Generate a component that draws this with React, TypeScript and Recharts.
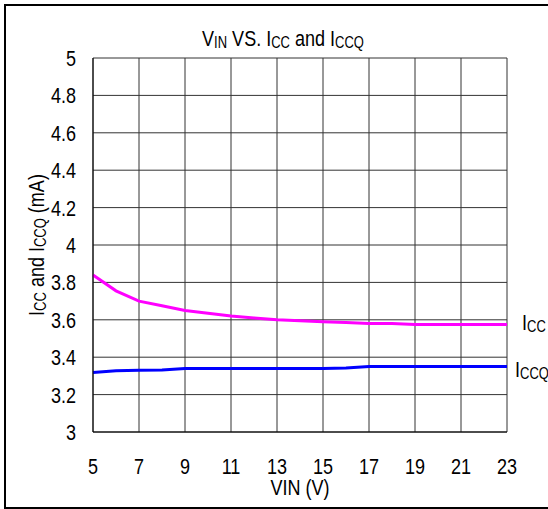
import { LineChart, Line, XAxis, YAxis, CartesianGrid, Label, LabelList, Customized } from 'recharts'

const vin = [5, 6, 7, 8, 9, 10, 11, 12, 13, 14, 15, 16, 17, 18, 19, 20, 21, 22, 23]
const icc = [3.84, 3.755, 3.70, 3.675, 3.65, 3.635, 3.62, 3.61, 3.60, 3.595, 3.59, 3.585, 3.58, 3.58, 3.575, 3.575, 3.575, 3.575, 3.575]
const iccq = [3.318, 3.328, 3.33, 3.332, 3.34, 3.34, 3.34, 3.34, 3.34, 3.34, 3.34, 3.342, 3.35, 3.35, 3.35, 3.35, 3.35, 3.35, 3.35]
const xTicks = [5, 7, 9, 11, 13, 15, 17, 19, 21, 23]
const yTicks = [3, 3.2, 3.4, 3.6, 3.8, 4, 4.2, 4.4, 4.6, 4.8, 5]

const data = vin.map((v, i) => ({ vin: v, icc: icc[i], iccq: iccq[i] }))

// no Arial Narrow here, so squeeze Liberation Sans horizontally
const font = '"Liberation Sans", Arial, sans-serif'
const fs = 22
const squeeze = 0.82

const Narrow = ({ x, y, anchor = 'start', rotate = 0, children }: any) => (
    <g transform={`translate(${x},${y}) rotate(${rotate}) scale(${squeeze},1)`}>
        <text x={0} y={0} textAnchor={anchor} fontFamily={font} fontSize={fs} fill="#000">{children}</text>
    </g>
)

const Sub = ({ children }: { children: string }) => (
    <tspan fontSize="0.72em" dy={2}>{children}</tspan>
)

const XTick = (props: any) => (
    <Narrow x={props.x} y={props.y + 42} anchor="middle">{props.payload.value}</Narrow>
)

const YTick = (props: any) => (
    <Narrow x={props.x - 17} y={props.y + 8} anchor="end">{String(Math.round(props.payload.value * 10) / 10)}</Narrow>
)

const endLabel = (name: string, sub: string, dx: number, dy: number) => (props: any) => {
    const { x, y, index } = props
    if (index !== vin.length - 1) return null
    return (
        <Narrow x={x + dx} y={y + dy}>
            {name}<Sub>{sub}</Sub>
        </Narrow>
    )
}

const Title = () => (
    <Narrow x={283} y={46} anchor="middle">
        V<Sub>IN</Sub><tspan dy={-2}> VS. I</tspan><Sub>CC</Sub><tspan dy={-2}> and I</tspan><Sub>CCQ</Sub>
    </Narrow>
)

const App = () => {
    return (
        <div style={{ position: 'absolute', left: 0, top: 0, width: 548, height: 509, background: '#fff' }}>
            <div style={{ position: 'absolute', left: 4, top: 4, width: 560, height: 505, border: '2px solid #000', boxSizing: 'border-box' }} />
            <LineChart width={548} height={509} data={data} margin={{ top: 58, right: 41, bottom: 37, left: 33 }} style={{ position: 'absolute', left: 0, top: 0 }}>
                <CartesianGrid stroke="#333" strokeWidth={1} />
                <XAxis dataKey="vin" type="number" domain={[5, 23]} ticks={xTicks} interval={0} height={40}
                    axisLine={{ stroke: '#000' }} tickLine={false} tickSize={0} tickMargin={0} tick={<XTick />}>
                    <Label position="bottom"
                        content={(p: any) => {
                            const vb = p.viewBox
                            return <Narrow x={vb.x + vb.width / 2} y={495} anchor="middle">VIN (V)</Narrow>
                        }} />
                </XAxis>
                <YAxis type="number" domain={[3, 5]} ticks={yTicks} interval={0} width={60}
                    axisLine={{ stroke: '#000' }} tickLine={false} tickSize={0} tickMargin={0} tick={<YTick />}>
                    <Label position="insideLeft"
                        content={(p: any) => {
                            const vb = p.viewBox
                            return (
                                <Narrow x={44} y={vb.y + vb.height / 2} anchor="middle" rotate={-90}>
                                    I<Sub>CC</Sub><tspan dy={-2}> and I</tspan><Sub>CCQ</Sub><tspan dy={-2}> (mA)</tspan>
                                </Narrow>
                            )
                        }} />
                </YAxis>
                <Line dataKey="icc" stroke="#ff00ff" strokeWidth={3} dot={false} isAnimationActive={false}>
                    <LabelList dataKey="icc" content={endLabel('I', 'CC', 15, 6)} />
                </Line>
                <Line dataKey="iccq" stroke="#0000ff" strokeWidth={3} dot={false} isAnimationActive={false}>
                    <LabelList dataKey="iccq" content={endLabel('I', 'CCQ', 8, 10)} />
                </Line>
                <Customized component={Title} />
            </LineChart>
        </div>
    )
}

export default App
